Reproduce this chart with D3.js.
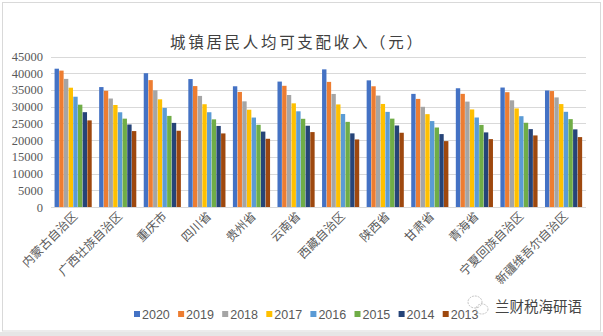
<!DOCTYPE html>
<html><head><meta charset="utf-8">
<script src="https://cdn.jsdelivr.net/npm/d3@7"></script>
<style>body{margin:0;background:#fff}svg{display:block}</style>
</head><body><svg id="c" width="603" height="336"></svg>
<script>
const categories = ["内蒙古自治区","广西壮族自治区","重庆市","四川省","贵州省","云南省","西藏自治区","陕西省","甘肃省","青海省","宁夏回族自治区","新疆维吾尔自治区"];
const years = ["2020","2019","2018","2017","2016","2015","2014","2013"];
const colors = ["#4472C4","#ED7D31","#A5A5A5","#FFC000","#5B9BD5","#70AD47","#264478","#9E480E"];
const v2020 = [41353,35859,40006,38253,36096,37500,41156,37868,33822,35506,35720,34838];
const v2019 = [40782,34745,37939,36154,34404,36238,37410,36098,32323,33830,34328,34664];
const v2018 = [38305,32436,34889,33216,31592,33488,33797,33319,29957,31515,31895,32764];
const v2017 = [35670,30502,32193,30727,29080,30996,30671,30810,27763,29169,29472,30775];
const v2016 = [32975,28324,29610,28335,26743,28611,27802,28440,25693,26757,27153,28463];
const v2015 = [30594,26416,27239,26205,24580,26373,25457,26420,23767,24542,25186,26275];
const v2014 = [28350,24669,25147,24234,22548,24299,22016,24366,21804,22307,23285,23214];
const v2013 = [25900,22700,22800,22000,20400,22400,20200,22200,19700,20300,21400,20900];
const series = [v2020,v2019,v2018,v2017,v2016,v2015,v2014,v2013];
const yTicks = [0,5000,10000,15000,20000,25000,30000,35000,40000,45000];
const title = "城镇居民人均可支配收入（元）";
const watermark = "兰财税海研语";

const svg = d3.select("#c");
svg.append("rect").attr("x",2.5).attr("y",2.5).attr("width",598).attr("height",328.5)
  .attr("fill","#fff").attr("stroke","#d9d9d9").attr("stroke-width",1);
svg.append("rect").attr("x",0).attr("y",332).attr("width",603).attr("height",4).attr("fill","#e6e6e6");

const L=51, R=586, T=56.5, B=207;
const x0 = d3.scaleBand().domain(categories).range([L,R]).paddingInner(0.16).paddingOuter(0.08);
const x1 = d3.scaleBand().domain(years).range([0,x0.bandwidth()]);
const y = d3.scaleLinear().domain([0,45000]).range([B,T]);

svg.append("g").selectAll("line").data(yTicks).join("line")
  .attr("x1",L).attr("x2",R).attr("y1",d=>Math.round(y(d))+0.5).attr("y2",d=>Math.round(y(d))+0.5)
  .attr("stroke","#d9d9d9").attr("stroke-width",1.2);

const yAxis = d3.axisLeft(y).tickValues(yTicks).tickSize(0).tickPadding(0).tickFormat(d3.format("d"));
const ga = svg.append("g").attr("transform",`translate(43,0)`).call(yAxis);
ga.select(".domain").remove();
ga.selectAll("text").attr("font-family","'Liberation Serif','DejaVu Serif',serif").attr("font-size",12.5).attr("fill","#595959");

const g = svg.append("g");
categories.forEach((c,ci)=>{
  years.forEach((yr,si)=>{
    const v = series[si][ci];
    g.append("rect").attr("x",x0(c)+x1(yr)).attr("width",x1.bandwidth()-0.3)
      .attr("y",y(v)).attr("height",B-y(v)).attr("fill",colors[si]);
  });
});

const xg = svg.append("g");
categories.forEach(c=>{
  const cx = x0(c)+x0.bandwidth()/2 + 5;
  xg.append("text").attr("transform",`translate(${cx},217) rotate(-45)`)
    .attr("text-anchor","end").attr("font-family","'Noto Sans CJK SC',sans-serif")
    .attr("font-size",12).attr("fill","#595959").text(c);
});

svg.append("text").attr("x",170).attr("y",48).attr("textLength",252).attr("lengthAdjust","spacing")
  .attr("font-family","'Noto Sans CJK SC',sans-serif").attr("font-size",15.5).attr("fill","#404040").text(title);

const lg = svg.append("g");
years.forEach((yr,i)=>{
  const lx = 134 + i*44.1;
  lg.append("rect").attr("x",lx).attr("y",311).attr("width",6).attr("height",6).attr("fill",colors[i]);
  lg.append("text").attr("x",lx+8).attr("y",319).attr("font-family","'Liberation Sans',Arial,sans-serif")
    .attr("font-size",12.5).attr("fill","#595959").text(yr);
});

const wm = svg.append("g").attr("fill","none").attr("stroke","#bbb").attr("stroke-width",0.9).attr("stroke-dasharray","2,1");
wm.append("ellipse").attr("cx",475).attr("cy",302).attr("rx",7).attr("ry",6);
wm.append("ellipse").attr("cx",482).attr("cy",309).attr("rx",6).attr("ry",5);
svg.append("text").attr("x",495).attr("y",312).attr("font-family","'Noto Sans CJK SC',sans-serif")
  .attr("font-size",14.5).attr("fill","#444").text(watermark);
</script></body></html>
